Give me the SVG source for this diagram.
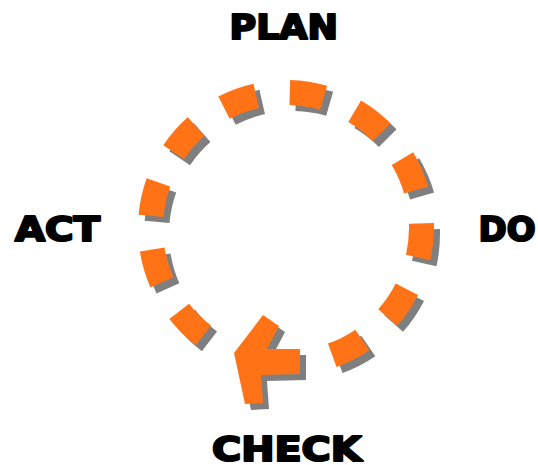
<svg xmlns="http://www.w3.org/2000/svg" xmlns:xlink="http://www.w3.org/1999/xlink" width="538" height="465" viewBox="0 0 538 465">
  <style>
    .lbl { font-family: "DejaVu Sans", "Liberation Sans", sans-serif; font-weight: bold; font-size: 34px; fill: #000; stroke: #000; stroke-width: 2.2px; stroke-linejoin: round; }
    .ring { fill: none; stroke-width: 25; stroke-dasharray: 34.29 33.82; stroke-linecap: butt; }
    .orange { fill: #FF7316; }
    .shade { fill: #7F7F7F; }
  </style>
  <defs>
    <path id="ringPath" d="M203.43,335.44 A135.5,135.5 0 1 1 332.23,355.37"/>
    <polygon id="arrowShape" points="263,315 279,326 267,349 300,349 300,374 261,375 263,403 245,404 234,353"/>
  </defs>
  <rect width="538" height="465" fill="#fff"/>
  <g id="connectors">
    <g id="cycle-shadow" transform="translate(6,6)">
      <use xlink:href="#ringPath" class="ring" stroke="#7F7F7F"/>
      <use xlink:href="#arrowShape" class="shade"/>
    </g>
    <g id="cycle">
      <use xlink:href="#ringPath" class="ring" stroke="#FF7316"/>
      <use xlink:href="#arrowShape" class="orange"/>
    </g>
  </g>
  <g id="plan"><text class="lbl" x="229.5" y="38.5" textLength="108.5" lengthAdjust="spacingAndGlyphs">PLAN</text></g>
  <g id="do"><text class="lbl" x="478.5" y="241" textLength="57" lengthAdjust="spacingAndGlyphs">DO</text></g>
  <g id="check"><text class="lbl" x="212" y="461" textLength="149.5" lengthAdjust="spacingAndGlyphs">CHECK</text></g>
  <g id="act"><text class="lbl" x="15" y="241" textLength="85" lengthAdjust="spacingAndGlyphs">ACT</text></g>
</svg>
